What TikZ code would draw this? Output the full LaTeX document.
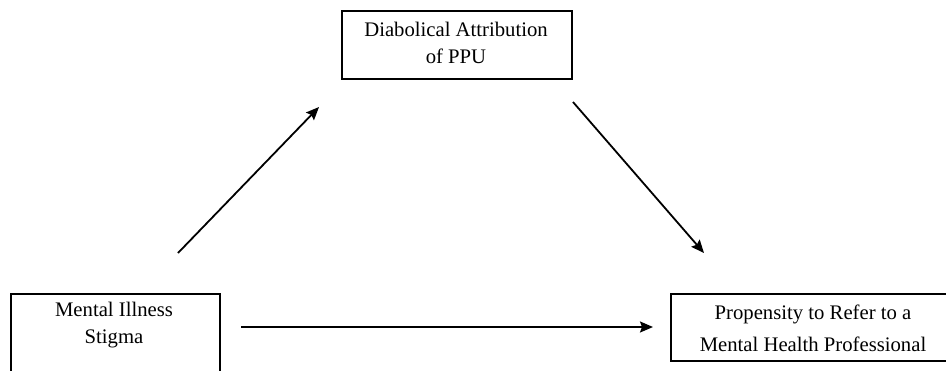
\documentclass[tikz,border=0pt]{standalone}
\usepackage{fontspec}
\setmainfont{Liberation Serif}
\usetikzlibrary{arrows.meta}
\begin{document}
\begin{tikzpicture}[x=1pt,y=-1pt,
  boxnode/.style={draw=black, line width=2.4pt, inner sep=0pt, fill=white},
  txt/.style={align=center, inner sep=0pt, font=\fontsize{20.7}{27}\selectfont},
  arr/.style={line width=1.8pt, -{Stealth[length=13pt,width=11pt,inset=2pt]}}]
\useasboundingbox (0,0) rectangle (946,370);
% boxes
\node[boxnode, minimum width=230pt, minimum height=68pt, anchor=north west] (dap) at (341,10) {};
\node[txt] (daptxt) at (456,43) {Diabolical Attribution\\of PPU};
\node[boxnode, minimum width=209pt, minimum height=95pt, anchor=north west] (mis) at (10,293) {};
\node[txt] (mistxt) at (114,325.5) {Mental Illness\\Stigma};
\node[boxnode, minimum width=290pt, minimum height=67pt, anchor=north west] (prp) at (670,293) {};
\node[txt, font=\fontsize{20.7}{32}\selectfont] (prptxt) at (813,328) {Propensity to Refer to a\\Mental Health Professional};
% arrow end points
\coordinate (a1s) at (178,253);
\coordinate (a1e) at (319,107);
\coordinate (a2s) at (573,102);
\coordinate (a2e) at (704,253);
\coordinate (a3s) at (241,327);
\coordinate (a3e) at (653,327);
\draw[arr] (a1s) -- (a1e);
\draw[arr] (a2s) -- (a2e);
\draw[arr] (a3s) -- (a3e);
\end{tikzpicture}
\end{document}
